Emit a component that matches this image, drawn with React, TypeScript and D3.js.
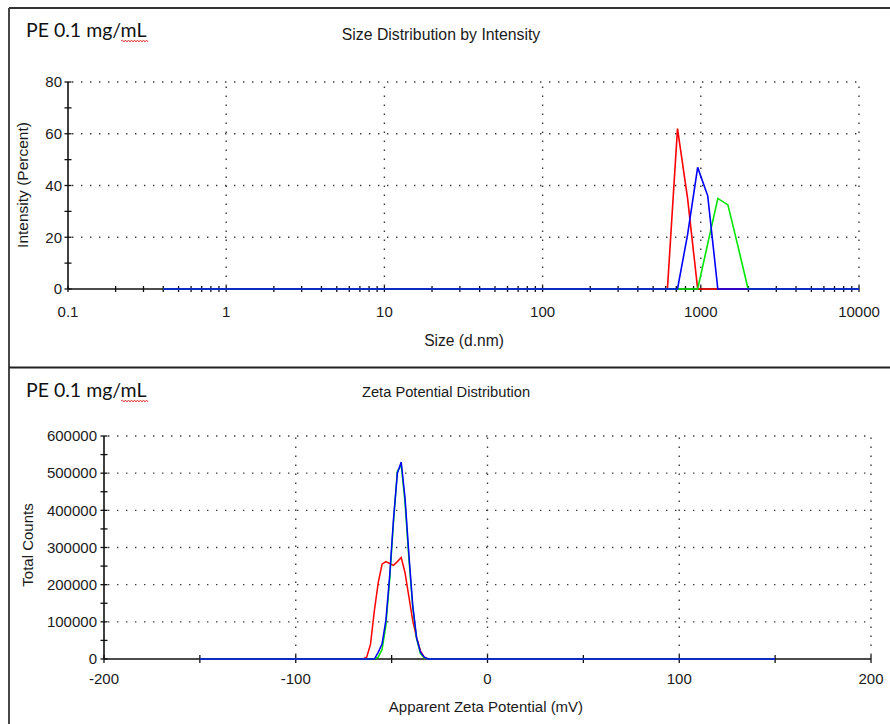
import React from "react";
import * as d3 from "d3";

// ---- Size distribution (intensity %) ----
const sizeNm = [0.4, 615.1, 712.4, 825.0, 955.4, 1106, 1281, 1484, 1718, 1990, 10000];
const intensityRed = [0, 0, 62, 35, 0, 0, 0, 0, 0, 0, 0];
const intensityGreen = [0, 0, 0, 0, 0, 17.5, 35, 32.5, 16.5, 0, 0];
const intensityBlue = [0, 0, 0, 21, 47, 36, 0, 0, 0, 0, 0];
const sizeTickValues = [0.1, 1, 10, 100, 1000, 10000];
const sizeTickLabels = ["0.1", "1", "10", "100", "1000", "10000"];
const intensityTickValues = [0, 20, 40, 60, 80];
const intensityTickLabels = ["0", "20", "40", "60", "80"];

// ---- Zeta potential distribution (total counts) ----
const zetaMv = [-150, -65, -63, -61, -59, -57, -55, -53, -51, -49, -47, -45, -43, -41, -39, -37, -35, -33, -31, 150];
const countsRed = [0, 0, 5000, 40000, 130000, 205000, 255000, 262000, 257000, 252000, 262000, 273000, 232000, 168000, 103000, 58000, 22000, 5000, 0, 0];
const countsGreen = [0, 0, 0, 0, 0, 5000, 25000, 90000, 215000, 370000, 505000, 522000, 420000, 270000, 140000, 55000, 15000, 3000, 0, 0];
const countsBlue = [0, 0, 0, 0, 0, 18000, 40000, 104000, 225000, 378000, 500000, 530000, 433000, 282000, 145000, 58000, 19000, 5000, 0, 0];
const zetaTickValues = [-200, -100, 0, 100, 200];
const zetaTickLabels = ["-200", "-100", "0", "100", "200"];
const countTickValues = [0, 100000, 200000, 300000, 400000, 500000, 600000];
const countTickLabels = ["0", "100000", "200000", "300000", "400000", "500000", "600000"];

const RED = "#ff0000";
const GREEN = "#00e600";
const BLUE = "#0000ff";

const FONT = "'Liberation Sans', Arial, sans-serif";
const TXT = "#1a1a1a";
const DOT = { stroke: "#3a3a3a", strokeWidth: 1.4, strokeDasharray: "1.4 7.6", fill: "none" } as const;

function squiggle(x0: number, x1: number, y: number) {
  let d = `M${x0},${y}`;
  let up = true;
  for (let x = x0 + 1.5; x <= x1; x += 1.5) {
    d += ` L${x},${up ? y - 1 : y + 1}`;
    up = !up;
  }
  return d;
}

function SampleLabel({ y }: { y: number }) {
  return (
    <g>
      <text x={26} y={y} fontFamily="Lato, 'Open Sans', sans-serif" fontSize={19.5} fill="#111">
        PE 0.1 mg/mL
      </text>
      <path d={squiggle(121, 148, y + 4)} stroke="#e03030" strokeWidth={0.9} fill="none" />
    </g>
  );
}

function SizePanel() {
  const x = d3.scaleLog().domain([0.1, 10000]).range([68, 859]);
  const y = d3.scaleLinear().domain([0, 80]).range([289, 82]);
  const line = (vals: number[]) =>
    d3.line<number>().x((_, i) => x(sizeNm[i])).y((v) => y(v))(vals) as string;
  const minorX = x.ticks();
  const minorY = y.ticks(8);
  return (
    <g>
      <SampleLabel y={37} />
      <text x={441} y={40} textAnchor="middle" fontFamily={FONT} fontSize={15.8} fill={TXT}>
        Size Distribution by Intensity
      </text>
      {/* grid */}
      {intensityTickValues.filter((v) => v > 0).map((v) => (
        <line key={"gy" + v} x1={x(0.1) + 4} x2={x(10000)} y1={y(v)} y2={y(v)} {...DOT} />
      ))}
      {sizeTickValues.filter((v) => v > 0.1).map((v) => (
        <line key={"gx" + v} x1={x(v)} x2={x(v)} y1={y(0) - 3} y2={y(80)} {...DOT} />
      ))}
      {/* axes */}
      <line x1={x(0.1)} x2={x(10000)} y1={y(0)} y2={y(0)} stroke="#111" strokeWidth={1.6} />
      <line x1={x(0.1)} x2={x(0.1)} y1={y(0)} y2={y(80)} stroke="#111" strokeWidth={1.6} />
      {minorX.map((v, i) => (
        <line key={"tx" + i} x1={x(v)} x2={x(v)} y1={y(0) - 3} y2={y(0) + 3} stroke="#111" strokeWidth={1.3} />
      ))}
      {minorY.map((v) => (
        <line key={"ty" + v} x1={x(0.1) - 3.5} x2={x(0.1) + 3.5} y1={y(v)} y2={y(v)} stroke="#111" strokeWidth={1.3} />
      ))}
      {sizeTickValues.map((v, i) => (
        <text key={"lx" + v} x={x(v)} y={317} textAnchor="middle" fontFamily={FONT} fontSize={15} fill={TXT}>
          {sizeTickLabels[i]}
        </text>
      ))}
      {intensityTickValues.map((v, i) => (
        <text key={"ly" + v} x={62} y={y(v) + 5.3} textAnchor="end" fontFamily={FONT} fontSize={15} fill={TXT}>
          {intensityTickLabels[i]}
        </text>
      ))}
      <text x={464} y={346} textAnchor="middle" fontFamily={FONT} fontSize={15.6} fill={TXT}>
        Size (d.nm)
      </text>
      <text
        transform="translate(28,185) rotate(-90)"
        textAnchor="middle"
        fontFamily={FONT}
        fontSize={15.5}
        fill={TXT}
      >
        Intensity (Percent)
      </text>
      {/* series */}
      <path d={line(intensityRed)} stroke={RED} strokeWidth={1.6} fill="none" />
      <path d={line(intensityGreen)} stroke={GREEN} strokeWidth={1.6} fill="none" />
      <path d={line(intensityBlue)} stroke={BLUE} strokeWidth={1.6} fill="none" />
    </g>
  );
}

function ZetaPanel() {
  const x = d3.scaleLinear().domain([-200, 200]).range([104, 871]);
  const y = d3.scaleLinear().domain([0, 600000]).range([659, 436]);
  const line = (vals: number[]) =>
    d3.line<number>().x((_, i) => x(zetaMv[i])).y((v) => y(v))(vals) as string;
  const ticksX = x.ticks(8);
  const ticksY = y.ticks(12);
  return (
    <g>
      <SampleLabel y={397} />
      <text x={446} y={397} textAnchor="middle" fontFamily={FONT} fontSize={14.7} fill={TXT}>
        Zeta Potential Distribution
      </text>
      {countTickValues.filter((v) => v > 0).map((v) => (
        <line key={"gy" + v} x1={x(-200) + 4} x2={x(200)} y1={y(v)} y2={y(v)} {...DOT} />
      ))}
      {zetaTickValues.filter((v) => v > -200).map((v) => (
        <line key={"gx" + v} x1={x(v)} x2={x(v)} y1={y(0) - 4} y2={y(600000)} {...DOT} />
      ))}
      <line x1={x(-200)} x2={x(200)} y1={y(0)} y2={y(0)} stroke="#111" strokeWidth={1.6} />
      <line x1={x(-200)} x2={x(-200)} y1={y(0)} y2={y(600000)} stroke="#111" strokeWidth={1.6} />
      {ticksX.map((v) => (
        <line key={"tx" + v} x1={x(v)} x2={x(v)} y1={y(0) - 4} y2={y(0) + 4} stroke="#111" strokeWidth={1.3} />
      ))}
      {ticksY.map((v) => (
        <line key={"ty" + v} x1={x(-200) - 3.5} x2={x(-200) + 3.5} y1={y(v)} y2={y(v)} stroke="#111" strokeWidth={1.3} />
      ))}
      {zetaTickValues.map((v, i) => (
        <text key={"lx" + v} x={x(v)} y={684} textAnchor="middle" fontFamily={FONT} fontSize={15} fill={TXT}>
          {zetaTickLabels[i]}
        </text>
      ))}
      {countTickValues.map((v, i) => (
        <text key={"ly" + v} x={97} y={y(v) + 5.3} textAnchor="end" fontFamily={FONT} fontSize={15} fill={TXT}>
          {countTickLabels[i]}
        </text>
      ))}
      <text x={486} y={712} textAnchor="middle" fontFamily={FONT} fontSize={15} fill={TXT}>
        Apparent Zeta Potential (mV)
      </text>
      <text
        transform="translate(33,545) rotate(-90)"
        textAnchor="middle"
        fontFamily={FONT}
        fontSize={15}
        fill={TXT}
      >
        Total Counts
      </text>
      <path d={line(countsRed)} stroke={RED} strokeWidth={1.5} fill="none" />
      <path d={line(countsGreen)} stroke={GREEN} strokeWidth={1.5} fill="none" />
      <path d={line(countsBlue)} stroke={BLUE} strokeWidth={1.5} fill="none" />
    </g>
  );
}

export default function App() {
  return (
    <svg
      width={890}
      height={724}
      viewBox="0 0 890 724"
      style={{ position: "absolute", left: 0, top: 0, background: "#fff" }}
    >
      <rect width={890} height={724} fill="#fff" />
      {/* frame around both panels */}
      <path d="M9,8 H890" stroke="#333" strokeWidth={1.8} fill="none" />
      <path d="M9,8 V724" stroke="#333" strokeWidth={1.8} fill="none" />
      <path d="M9,367.5 H890" stroke="#222" strokeWidth={1.8} fill="none" />
      <SizePanel />
      <ZetaPanel />
    </svg>
  );
}
